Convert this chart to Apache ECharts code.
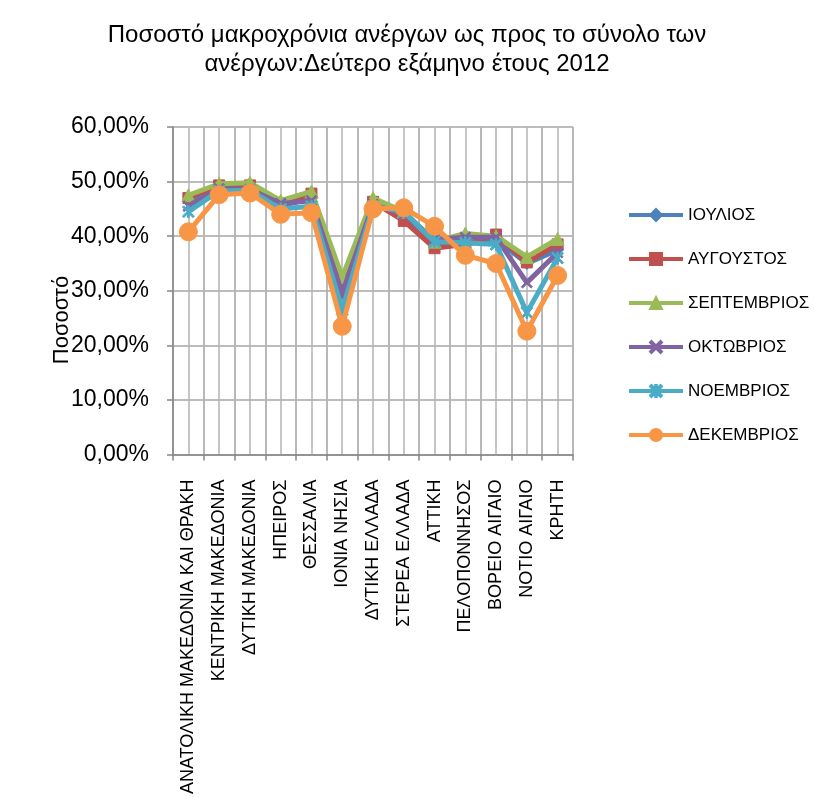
<!DOCTYPE html>
<html>
<head>
<meta charset="utf-8">
<script src="https://cdn.jsdelivr.net/npm/echarts@6/dist/echarts.min.js"></script>
<style>
html,body{margin:0;padding:0;background:#fff;}
#chart{width:814px;height:797px;}
</style>
</head>
<body>
<div id="chart"></div>
<script>
const titleText = 'Ποσοστό μακροχρόνια ανέργων ως προς το σύνολο των\nανέργων:Δεύτερο εξάμηνο έτους 2012';
const yAxisName = 'Ποσοστό';
const categories = ['ΑΝΑΤΟΛΙΚΗ ΜΑΚΕΔΟΝΙΑ ΚΑΙ ΘΡΑΚΗ','ΚΕΝΤΡΙΚΗ ΜΑΚΕΔΟΝΙΑ','ΔΥΤΙΚΗ ΜΑΚΕΔΟΝΙΑ','ΗΠΕΙΡΟΣ','ΘΕΣΣΑΛΙΑ','ΙΟΝΙΑ ΝΗΣΙΑ','ΔΥΤΙΚΗ ΕΛΛΑΔΑ','ΣΤΕΡΕΑ ΕΛΛΑΔΑ','ΑΤΤΙΚΗ','ΠΕΛΟΠΟΝΝΗΣΟΣ','ΒΟΡΕΙΟ ΑΙΓΑΙΟ','ΝΟΤΙΟ ΑΙΓΑΙΟ','ΚΡΗΤΗ'];
const months = ['ΙΟΥΛΙΟΣ','ΑΥΓΟΥΣΤΟΣ','ΣΕΠΤΕΜΒΡΙΟΣ','ΟΚΤΩΒΡΙΟΣ','ΝΟΕΜΒΡΙΟΣ','ΔΕΚΕΜΒΡΙΟΣ'];
const iouliosValues     = [46.5, 48.8, 48.9, 45.5, 47.0, 29.5, 46.0, 44.0, 38.5, 38.5, 39.5, 35.0, 37.5];
const avgoustosValues   = [47.0, 49.3, 49.3, 46.0, 47.8, 30.0, 46.3, 42.8, 37.8, 38.5, 40.3, 35.2, 38.5];
const septemvriosValues = [47.5, 49.6, 49.8, 46.5, 48.2, 32.5, 47.0, 44.5, 39.0, 40.5, 40.0, 36.2, 39.5];
const oktovriosValues   = [45.5, 48.7, 48.6, 46.0, 46.5, 29.5, 45.8, 44.0, 39.5, 39.8, 39.8, 31.5, 37.0];
const noemvriosValues   = [44.5, 48.3, 48.4, 45.0, 45.5, 26.5, 45.5, 44.5, 39.0, 38.8, 38.5, 26.0, 36.0];
const dekemvriosValues  = [40.8, 47.6, 47.9, 44.0, 44.3, 23.5, 45.0, 45.2, 41.8, 36.5, 35.0, 22.6, 32.8];
const yMin = 0, yMax = 60, yStep = 10;

const FONT = 'Liberation Sans';
const seriesValues = [iouliosValues, avgoustosValues, septemvriosValues, oktovriosValues, noemvriosValues, dekemvriosValues];
const colors = ['#4F81BD','#C0504D','#9BBB59','#8064A2','#4BACC6','#F79646'];
const xShape = 'path://M0,1.2L1.2,0L5,3.8L8.8,0L10,1.2L6.2,5L10,8.8L8.8,10L5,6.2L1.2,10L0,8.8L3.8,5Z';
const starShape = 'path://M4.35,0H5.65V10H4.35Z M0,1.2L1.2,0L5,3.8L8.8,0L10,1.2L6.2,5L10,8.8L8.8,10L5,6.2L1.2,10L0,8.8L3.8,5Z';
const symbols = ['diamond','rect','triangle',xShape,starShape,'circle'];
const symbolSizes = [12, 11, 13, 11, 12, 18];
const halfCats = [];
for (let i = 0; i < categories.length * 2; i++) halfCats.push('');

const chart = echarts.init(document.getElementById('chart'), null, {renderer: 'canvas'});
const option = {
  backgroundColor: '#ffffff',
  animation: false,
  color: colors,
  textStyle: {fontFamily: FONT},
  title: {
    text: titleText,
    left: 'center',
    top: 21,
    padding: 0,
    textStyle: {fontFamily: FONT, fontSize: 24, fontWeight: 'normal', color: '#000', lineHeight: 29}
  },
  legend: {
    orient: 'vertical',
    left: 622,
    top: 200,
    itemWidth: 54,
    itemHeight: 15,
    itemGap: 24,
    data: months,
    lineStyle: {width: 4},
    textStyle: {fontFamily: FONT, fontSize: 17, color: '#000', lineHeight: 20}
  },
  grid: {left: 173, right: 241, top: 127, bottom: 342, containLabel: false},
  xAxis: [{
    type: 'category',
    data: categories,
    boundaryGap: true,
    axisLine: {lineStyle: {color: '#868686', width: 1.5}},
    axisTick: {show: true, length: 6, lineStyle: {color: '#868686', width: 1.5}},
    axisLabel: {rotate: 90, margin: 25, interval: 0, color: '#000', fontFamily: FONT, fontSize: 18},
    splitLine: {show: true, lineStyle: {color: '#b3b3b3', width: 1.5}}
  }, {
    type: 'category',
    data: halfCats,
    position: 'bottom',
    boundaryGap: true,
    axisLine: {show: false},
    axisTick: {show: false},
    axisLabel: {show: false},
    splitLine: {show: true, lineStyle: {color: '#b3b3b3', width: 1.5}}
  }],
  yAxis: {
    type: 'value',
    min: yMin, max: yMax, interval: yStep,
    axisLine: {show: true, lineStyle: {color: '#868686', width: 1.5}},
    axisTick: {show: true, length: 6, lineStyle: {color: '#868686', width: 1.5}},
    axisLabel: {margin: 24, color: '#000', fontFamily: FONT, fontSize: 23,
      formatter: v => v.toFixed(2).replace('.', ',') + '%'},
    splitLine: {show: true, lineStyle: {color: '#a6a6a6', width: 1.5}}
  },
  graphic: [{
    type: 'text',
    x: 62, y: 320,
    rotation: Math.PI / 2,
    style: {text: yAxisName, font: '22px "' + FONT + '"', fill: '#000', textAlign: 'center', textVerticalAlign: 'middle'}
  }],
  series: months.map((m, i) => ({
    name: m,
    type: 'line',
    xAxisIndex: 0,
    data: seriesValues[i],
    symbol: symbols[i],
    symbolSize: symbolSizes[i],
    showAllSymbol: true,
    lineStyle: {width: 5, color: colors[i]},
    itemStyle: {color: colors[i], borderColor: colors[i], borderWidth: 1},
    z: 2 + i
  }))
};
chart.setOption(option);
</script>
</body>
</html>
